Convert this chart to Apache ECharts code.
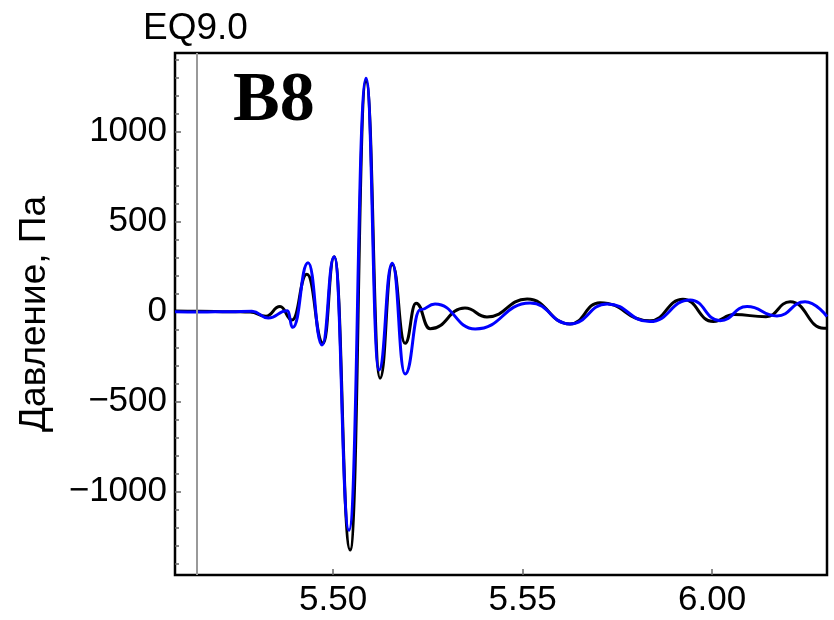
<!DOCTYPE html>
<html><head><meta charset="utf-8">
<script src="https://cdn.jsdelivr.net/npm/echarts@6/dist/echarts.min.js"></script>
<style>html,body{margin:0;padding:0;background:#fff}#c{width:834px;height:620px}</style>
</head><body><div id="c"></div>
<script>
const titleText = 'EQ9.0';
const panelLabel = 'B8';
const yAxisName = 'Давление, Па';
const xTickValues = [350, 355, 360];
const yTickValues = [-1000, -500, 0, 500, 1000];
const yMinorTickValues = [-1400, -1300, -1200, -1100, -900, -800, -700, -600, -400, -300, -200, -100, 100, 200, 300, 400, 600, 700, 800, 900, 1100, 1200, 1300, 1400];
const markerTime = 346.40;

// time in seconds (5.50 = 5 min 50 s = 350 s), pressure in Pa
const blackTimes = [345.83, 346.49, 347.28, 347.81, 348.23, 348.60, 348.92, 349.31, 349.74, 350.03, 350.45, 350.87, 351.24, 351.56, 351.90, 352.19, 352.56, 353.48, 354.06, 355.12, 356.25, 357.04, 358.36, 359.23, 360.03, 360.58, 361.42, 362.06, 362.95, 363.03];
const blackValues = [3, 2, 0, -2, -25, 28, -46, 208, -176, 305, -1324, 1280, -370, 262, -176, 47, -95, 20, -29, 70, -68, 50, -50, 69, -55, -16, -28, 55, -92, -92];

const blueTimes = [345.83, 346.49, 347.28, 347.86, 348.29, 348.79, 348.94, 349.34, 349.71, 350.03, 350.42, 350.87, 351.21, 351.56, 351.90, 352.30, 352.69, 353.75, 355.20, 356.25, 357.23, 358.36, 359.42, 360.21, 360.92, 361.71, 362.45, 363.03];
const blueValues = [0, -2, 0, 2, -35, 5, -87, 272, -185, 305, -1215, 1297, -324, 269, -346, 10, 43, -96, 48, -68, 43, -55, 65, -50, 28, -24, 55, -28];

function zip(a, b) { return a.map((t, i) => [t, b[i]]); }
function fmtTime(v) {
  const m = Math.floor(v / 60 + 1e-9);
  const s = Math.round(v - m * 60);
  return m + '.' + (s < 10 ? '0' : '') + s;
}
const FONT = 'Liberation Sans';
const chart = echarts.init(document.getElementById('c'), null, { renderer: 'canvas' });
chart.setOption({
  animation: false,
  backgroundColor: '#fff',
  grid: { left: 175, right: 7, top: 53, bottom: 45, show: true, borderColor: '#000', borderWidth: 2.5, backgroundColor: 'transparent' },
  xAxis: {
    type: 'value', min: 345.83, max: 363.03,
    axisLine: { show: false, onZero: false }, splitLine: { show: false },
    axisTick: { show: true, inside: true, length: 6, customValues: xTickValues, lineStyle: { color: '#666', width: 1.5 } },
    axisLabel: { customValues: xTickValues, formatter: fmtTime, fontSize: 35, color: '#000', fontFamily: FONT, margin: 8 }
  },
  yAxis: [
    {
      type: 'value', min: -1463, max: 1437, position: 'left',
      axisLine: { show: false, onZero: false }, splitLine: { show: false },
      axisTick: { show: true, inside: true, length: 6, customValues: yTickValues, lineStyle: { color: '#666', width: 1.5 } },
      axisLabel: { customValues: yTickValues, fontSize: 35, color: '#000', fontFamily: FONT, margin: 8,
        formatter: v => v < 0 ? '\u2212' + (-v) : String(v) },
      name: yAxisName, nameLocation: 'middle', nameRotate: 90, nameGap: 122,
      nameTextStyle: { fontSize: 37, color: '#000', fontFamily: FONT }
    },
    {
      type: 'value', min: -1463, max: 1437, position: 'left',
      axisLine: { show: false, onZero: false }, splitLine: { show: false },
      axisTick: { show: true, inside: true, length: 4, customValues: yMinorTickValues, lineStyle: { color: '#666', width: 1.5 } },
      axisLabel: { show: false }
    }
  ],
  graphic: [
    { type: 'text', x: 143, y: 29, style: { text: titleText, font: '37px "Liberation Sans"', fill: '#000', textAlign: 'left', textVerticalAlign: 'middle' } },
    { type: 'text', x: 233, y: 102, z: 10, style: { text: panelLabel, font: 'bold 70px "Liberation Serif"', fill: '#000', textAlign: 'left', textVerticalAlign: 'middle' } }
  ],
  series: [
    {
      type: 'line', data: zip(blackTimes, blackValues), showSymbol: false, symbol: 'none',
      smooth: 0.5, smoothMonotone: 'x', lineStyle: { color: '#000', width: 3 }, z: 2,
      markLine: {
        silent: true, symbol: ['none', 'none'], label: { show: false }, animation: false,
        lineStyle: { color: '#999', width: 2, type: 'solid' },
        data: [{ xAxis: markerTime }]
      }
    },
    {
      type: 'line', data: zip(blueTimes, blueValues), showSymbol: false, symbol: 'none',
      smooth: 0.5, smoothMonotone: 'x', lineStyle: { color: '#0000ff', width: 3 }, z: 3
    }
  ]
});
</script>
</body></html>
